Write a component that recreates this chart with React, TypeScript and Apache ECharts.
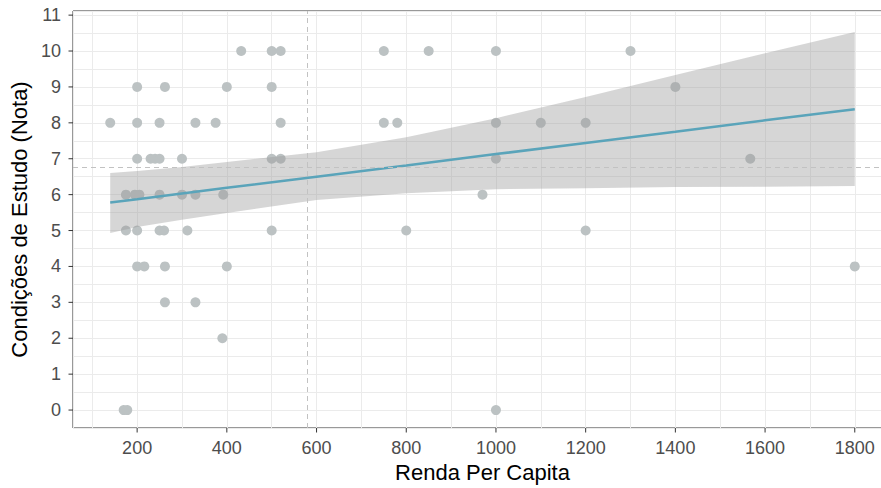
import { useEffect, useRef } from "react";
import * as echarts from "echarts";

// Scatter data: Renda Per Capita (x) and Condições de Estudo (Nota) (y)
const renda = [
  432, 500, 520, 750, 850, 1000, 1300,
  200, 262, 400, 500, 1400,
  140, 200, 250, 330, 375, 520, 750, 780, 1000, 1100, 1200,
  200, 230, 240, 250, 300, 500, 520, 1000, 1567,
  175, 195, 205, 250, 300, 330, 392, 970,
  175, 200, 250, 260, 312, 500, 800, 1200,
  200, 216, 262, 400, 1800,
  262, 330,
  390,
  170, 178, 1000,
];
const nota = [
  10, 10, 10, 10, 10, 10, 10,
  9, 9, 9, 9, 9,
  8, 8, 8, 8, 8, 8, 8, 8, 8, 8, 8,
  7, 7, 7, 7, 7, 7, 7, 7, 7,
  6, 6, 6, 6, 6, 6, 6, 6,
  5, 5, 5, 5, 5, 5, 5, 5,
  4, 4, 4, 4, 4,
  3, 3,
  2,
  0, 0, 0,
];

// Linear fit and confidence band
const bandX = [140, 200, 300, 400, 600, 800, 1000, 1200, 1400, 1600, 1800];
const fitY = [5.78, 5.87, 6.03, 6.19, 6.5, 6.81, 7.13, 7.44, 7.75, 8.07, 8.38];
const bandLower = [4.93, 5.1, 5.3, 5.49, 5.85, 6.04, 6.15, 6.18, 6.21, 6.22, 6.24];
const bandUpper = [6.6, 6.66, 6.77, 6.91, 7.18, 7.6, 8.13, 8.72, 9.33, 9.94, 10.53];

// Reference lines (means)
const meanRenda = 579;
const meanNota = 6.77;

// Tick labels
const xTicks = [200, 400, 600, 800, 1000, 1200, 1400, 1600, 1800];
const yTicks = [0, 1, 2, 3, 4, 5, 6, 7, 8, 9, 10, 11];

const X_MIN = 57;
const X_MAX = 1883;
const Y_MIN = -0.5;
const Y_MAX = 11.115;

const FONT = "Liberation Sans, Arial, sans-serif";

export default function App() {
  const ref = useRef<HTMLDivElement>(null);

  useEffect(() => {
    if (!ref.current) return;
    const chart = echarts.init(ref.current, null, { renderer: "svg" });

    const scatterData = renda.map((x, i) => [x, nota[i]]);
    const fitData = bandX.map((x, i) => [x, fitY[i]]);

    const tickStroke = "#333333";

    chart.setOption({
      animation: false,
      backgroundColor: "#ffffff",
      grid: {
        left: 73,
        top: 11,
        right: -11,
        bottom: 60,
        show: true,
        borderColor: "#333333",
        borderWidth: 1,
        backgroundColor: "#ffffff",
        containLabel: false,
        outerBoundsMode: "none",
      },
      xAxis: {
        type: "value",
        min: X_MIN,
        max: X_MAX,
        splitNumber: 18,
        name: "Renda Per Capita",
        nameLocation: "middle",
        nameGap: 29,
        nameTextStyle: { fontFamily: FONT, fontSize: 22, color: "#000000" },
        axisLine: { show: false },
        axisTick: { show: false },
        axisLabel: {
          fontFamily: FONT,
          fontSize: 18,
          color: "#4d4d4d",
          margin: 11,
          formatter: (v: number) => (xTicks.indexOf(v) >= 0 ? String(v) : ""),
        },
        splitLine: { show: true, lineStyle: { color: "#ebebeb", width: 1 } },
      },
      yAxis: {
        type: "value",
        min: Y_MIN,
        max: Y_MAX,
        splitNumber: 23,
        name: "Condições de Estudo (Nota)",
        nameLocation: "middle",
        nameGap: 40,
        nameRotate: 90,
        nameTextStyle: { fontFamily: FONT, fontSize: 22, color: "#000000" },
        axisLine: { show: false },
        axisTick: { show: false },
        axisLabel: {
          fontFamily: FONT,
          fontSize: 18,
          color: "#4d4d4d",
          margin: 12,
          formatter: (v: number) => (yTicks.indexOf(v) >= 0 ? String(v) : ""),
        },
        splitLine: { show: true, lineStyle: { color: "#ebebeb", width: 1 } },
      },
      series: [
        {
          type: "scatter",
          data: scatterData,
          symbol: "circle",
          symbolSize: 10,
          itemStyle: { color: "#bcc2c3", opacity: 1 },
          silent: true,
          z: 2,
        },
        {
          type: "custom",
          silent: true,
          data: [[bandX[0], bandLower[0]]],
          renderItem: (_p: any, api: any) => {
            const pts: number[][] = [];
            for (let i = 0; i < bandX.length; i++) pts.push(api.coord([bandX[i], bandUpper[i]]));
            for (let i = bandX.length - 1; i >= 0; i--) pts.push(api.coord([bandX[i], bandLower[i]]));
            return {
              type: "polygon",
              shape: { points: pts },
              style: { fill: "rgba(153,153,153,0.4)", stroke: "none" },
            };
          },
          z: 3,
        },
        {
          type: "line",
          data: fitData,
          symbol: "none",
          lineStyle: { color: "#5aa4ba", width: 2.6 },
          silent: true,
          z: 4,
          markLine: {
            silent: true,
            symbol: ["none", "none"],
            label: { show: false },
            lineStyle: { color: "#c2c2c2", type: [5, 4], width: 1 },
            data: [{ xAxis: meanRenda }, { yAxis: meanNota }],
          },
        },
        {
          type: "custom",
          silent: true,
          clip: false,
          data: yTicks.map((v) => [X_MIN, v]),
          renderItem: (_p: any, api: any) => {
            const pt = api.coord([X_MIN, api.value(1)]);
            return {
              type: "line",
              shape: { x1: pt[0] - 4.5, y1: pt[1], x2: pt[0], y2: pt[1] },
              style: { stroke: tickStroke, lineWidth: 1 },
            };
          },
          z: 5,
        },
        {
          type: "custom",
          silent: true,
          clip: false,
          data: xTicks.map((v) => [v, Y_MIN]),
          renderItem: (_p: any, api: any) => {
            const pt = api.coord([api.value(0), Y_MIN]);
            return {
              type: "line",
              shape: { x1: pt[0], y1: pt[1], x2: pt[0], y2: pt[1] + 4.5 },
              style: { stroke: tickStroke, lineWidth: 1 },
            };
          },
          z: 5,
        },
      ],
    });

    return () => chart.dispose();
  }, []);

  return (
    <div
      ref={ref}
      style={{ position: "fixed", left: 0, top: 0, width: 881, height: 488, background: "#fff" }}
    />
  );
}
